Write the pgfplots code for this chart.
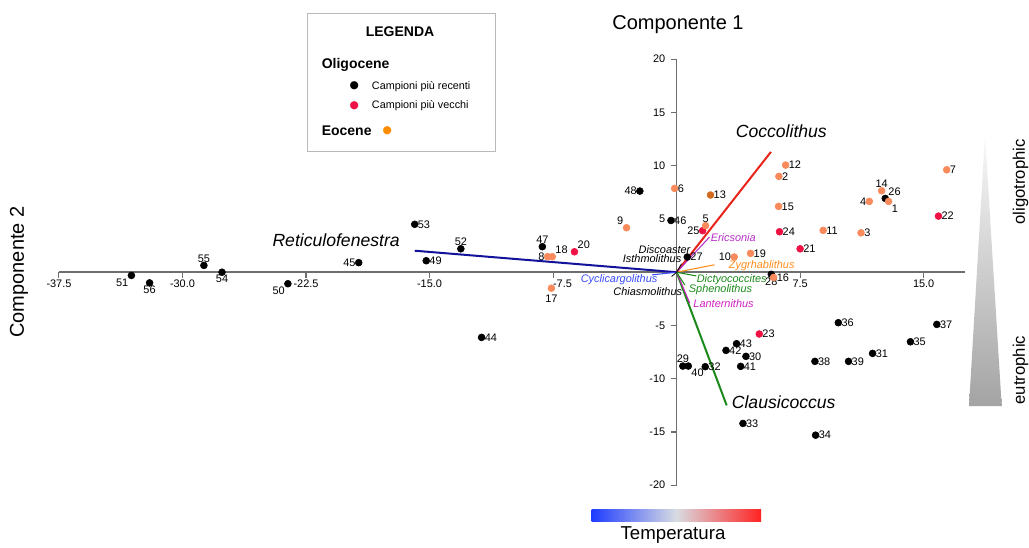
\documentclass[border=0pt]{standalone}
\usepackage{pgfplots}
\pgfplotsset{compat=1.18}
\usepackage{fontspec}
\setmainfont{Liberation Sans}
\newfontfamily\dejavu{DejaVu Sans}
\definecolor{axisgray}{HTML}{6E6E6E}
\definecolor{ptred}{HTML}{EE1144}
\definecolor{ptcoral}{HTML}{F98A5C}
\definecolor{ptdark}{HTML}{D2691E}
\definecolor{legorange}{HTML}{FF8C00}
\definecolor{retblue}{HTML}{12129A}
\definecolor{cocred}{HTML}{E8231A}
\definecolor{clagreen}{HTML}{1B8A1B}
\definecolor{cycblue}{HTML}{3A4DFF}
\definecolor{zygor}{HTML}{FF8C1A}
\definecolor{magen}{HTML}{B52EC7}
\definecolor{lanmag}{HTML}{D020C0}
\newcommand\ptfont{\fontsize{8.2}{9}\selectfont}
\newcommand\vecfont{\fontsize{8.2}{9}\selectfont\itshape}
\newcommand\bigfont{\fontsize{13.2}{15}\selectfont\itshape}

\pgfplotsset{
  pt/.style={only marks, mark=*, mark size=2.6pt, draw=#1, fill=#1,
    nodes near coords, point meta=explicit symbolic},
  lab/.style={every node near coord/.append style={anchor=#1}},
}

\begin{document}
\begin{tikzpicture}[x=0.75pt,y=0.75pt]
\useasboundingbox (0,0) rectangle (1029,547);

\begin{axis}[
  at={(35.8,58)}, anchor=south west,
  x=12.3525pt, y=7.9875pt,
  xmin=-37.5, xmax=17.5, ymin=-20, ymax=20,
  axis lines=middle, enlargelimits=false, clip=false,
  axis line style={draw=axisgray, line width=1.1pt, -},
  xtick={-37.5,-30,-22.5,-15,-7.5,7.5,15},
  xticklabels={-37.5,-30.0,-22.5,-15.0,\rlap{-7.5},7.5,15.0},
  ytick={-20,-15,-10,-5,5,10,15,20},
  yticklabels={-20,-15,-10,-5,5,10,15,20},
  tick align=outside, major tick length=4pt,
  tick style={draw=axisgray, line width=0.8pt},
  ticklabel style={font=\ptfont, text=black},
  xticklabel style={yshift=2pt},
  yticklabel style={xshift=-1pt},
  /pgf/number format/assume math mode=true,
  every node near coord/.append style={font=\ptfont, text=black, inner sep=2.2pt},
]
% loading vectors
\addplot[retblue, line width=1.5pt] coordinates {(0,0) (-15.9,2.02)};
\addplot[cocred, line width=1.5pt] coordinates {(0,0) (5.73,11.3)};
\addplot[clagreen, line width=1.5pt] coordinates {(0,0) (3.04,-12.5)};
\addplot[cycblue, line width=0.8pt] coordinates {(0,0) (-1.5,-0.25)};
\addplot[zygor, line width=0.8pt] coordinates {(0,0) (2.3,0.7)};
\addplot[magen, line width=0.8pt] coordinates {(0,0) (2.0,3.3)};
\addplot[lanmag, line width=0.8pt] coordinates {(0,0) (0.8,-2.9)};
\addplot[clagreen, line width=0.8pt] coordinates {(0,0) (1.2,-0.35)};
\addplot[clagreen, line width=0.8pt] coordinates {(0,0) (0.5,-1.2)};
\addplot[black, line width=0.6pt] coordinates {(0,0) (0.3,0.8)};
\addplot[black, line width=0.6pt] coordinates {(0,0) (-0.3,-0.4)};

% Oligocene, more recent samples (black)
\addplot[pt=black, lab={north east}] coordinates {(-33.1,-0.3)[51] (-23.6,-1.08)[50]};
\addplot[pt=black, lab=north] coordinates {(-32.0,-1.0)[56] (-27.6,0.0)[54] (5.75,-0.2)[28]};
\addplot[pt=black, lab=south] coordinates {(-28.7,0.64)[55] (-13.1,2.2)[52] (-8.15,2.4)[47] (0.38,-8.81)[29]};
\addplot[pt=black, lab=east] coordinates {(-19.3,0.9)[45] (-2.23,7.62)[48]};
\addplot[pt=black, lab=west] coordinates {
  (-15.9,4.5)[53] (-15.2,1.08)[49] (-0.34,4.86)[46] (0.65,1.43)[27]
  (1.74,-8.87)[32] (3.0,-7.34)[42] (3.64,-6.71)[43] (4.21,-7.9)[30]
  (3.89,-8.84)[41] (4.03,-14.2)[33] (-11.84,-6.12)[44] (9.82,-4.74)[36]
  (15.8,-4.9)[37] (14.2,-6.53)[35] (11.9,-7.62)[31] (8.4,-8.37)[38]
  (10.44,-8.37)[39] (8.44,-15.3)[34]};
\addplot[pt=black, lab={south west}] coordinates {(12.67,6.93)[26]};
\addplot[pt=black, lab={north west}] coordinates {(0.71,-8.81)[40]};

% Oligocene, older samples (red)
\addplot[pt=ptred, lab={south west}] coordinates {(-6.2,1.92)[20]};
\addplot[pt=ptred, lab=east] coordinates {(1.58,3.9)[25]};
\addplot[pt=ptred, lab=west] coordinates {(6.25,3.8)[24] (7.5,2.2)[21] (15.9,5.27)[22] (5.02,-5.8)[23]};

% Eocene (orange)
\addplot[pt=ptcoral, lab=east] coordinates {(-7.83,1.46)[8] (3.5,1.43)[10] (11.7,6.65)[4]};
\addplot[pt=ptcoral, lab={south west}] coordinates {(-7.55,1.46)[18]};
\addplot[pt=ptcoral, lab=north, every node near coord/.append style={yshift=-2.5pt}] coordinates {(-7.6,-1.5)[17]};
\addplot[pt=ptcoral, lab={south east}] coordinates {(-3.04,4.18)[9]};
\addplot[pt=ptcoral, lab=west] coordinates {
  (-0.12,7.87)[6] (4.49,1.77)[19] (5.89,-0.49)[16] (8.9,3.93)[11]
  (6.21,9.0)[2] (6.62,10.06)[12] (6.19,6.18)[15] (11.2,3.7)[3] (16.4,9.62)[7]};
\addplot[pt=ptcoral, lab=south] coordinates {(1.76,4.37)[5] (12.45,7.65)[14]};
\addplot[pt=ptcoral, lab={north west}] coordinates {(12.87,6.65)[1]};
\addplot[pt=ptdark, lab=west] coordinates {(2.06,7.25)[13]};

% vector names
\node[font=\bigfont, anchor=west, inner sep=0pt] at (axis cs:-24.55,2.96) {Reticulofenestra};
\node[font=\bigfont, anchor=west, inner sep=0pt] at (axis cs:3.58,13.2) {Coccolithus};
\node[font=\bigfont, anchor=west, inner sep=0pt] at (axis cs:3.34,-12.16) {Clausicoccus};
\node[font=\vecfont, anchor=east, inner sep=0pt] at (axis cs:0.85,2.14) {Discoaster};
\node[font=\vecfont, anchor=east, inner sep=0pt] at (axis cs:0.3,1.27) {Isthmolithus};
\node[font=\vecfont, anchor=west, inner sep=0pt, text=magen] at (axis cs:2.06,3.24) {Ericsonia};
\node[font=\vecfont, anchor=west, inner sep=0pt, text=zygor] at (axis cs:3.16,0.58) {Zygrhablithus};
\node[font=\vecfont, anchor=east, inner sep=0pt, text=cycblue] at (axis cs:-1.15,-0.73) {Cyclicargolithus};
\node[font=\vecfont, anchor=east, inner sep=0pt] at (axis cs:0.35,-1.83) {Chiasmolithus};
\node[font=\vecfont, anchor=west, inner sep=0pt, text=clagreen] at (axis cs:1.21,-0.73) {Dictyococcites};
\node[font=\vecfont, anchor=west, inner sep=0pt, text=clagreen] at (axis cs:0.73,-1.67) {Sphenolithus};
\node[font=\vecfont, anchor=west, inner sep=0pt, text=lanmag] at (axis cs:1.01,-2.99) {Lanternithus};
\end{axis}

% titles
\node[font=\fontsize{15}{17}\selectfont] at (678,522) {Componente 1};
\node[font=\fontsize{15}{17}\selectfont, rotate=90] at (19,275) {Componente 2};
\node[font=\fontsize{14}{16}\selectfont] at (673,12) {Temperatura};

% temperature bar
\shade[left color={rgb,255:red,30;green,60;blue,255}, right color={rgb,255:red,255;green,35;blue,35}, middle color={rgb,255:red,216;green,220;blue,226}]
  (591.5,26) rectangle (761,37.5);

% trophic triangle
\shade[top color=gray!5, bottom color=gray!72] (985,412) -- (1001.7,141) -- (969,141) -- cycle;
\node[font=\fontsize{12.5}{14}\selectfont, rotate=90] at (1020.5,365) {oligotrophic};
\node[font=\fontsize{12.5}{14}\selectfont, rotate=90] at (1020.5,177) {eutrophic};

% legend box
\draw[gray!55, line width=0.7pt] (307.3,533.7) rectangle (495,395.3);
\node[font=\fontsize{10.5}{12}\selectfont\bfseries] at (400,515.5) {LEGENDA};
\node[font=\fontsize{10.5}{12}\selectfont\bfseries, anchor=west, inner sep=0pt] at (321.5,482.5) {Oligocene};
\node[font=\dejavu\fontsize{8}{9}\selectfont, text=black] at (354.3,461) {●};
\node[font=\fontsize{8.1}{9}\selectfont, anchor=west, inner sep=0pt] at (371.7,460.5) {Campioni più recenti};
\node[font=\dejavu\fontsize{8}{9}\selectfont, text=ptred] at (354.3,441.3) {●};
\node[font=\fontsize{8.1}{9}\selectfont, anchor=west, inner sep=0pt] at (371.7,441) {Campioni più vecchi};
\node[font=\fontsize{10.5}{12}\selectfont\bfseries, anchor=west, inner sep=0pt] at (321.5,416.5) {Eocene};
\node[font=\dejavu\fontsize{8}{9}\selectfont, text=legorange] at (387.3,416.5) {●};
\end{tikzpicture}
\end{document}
